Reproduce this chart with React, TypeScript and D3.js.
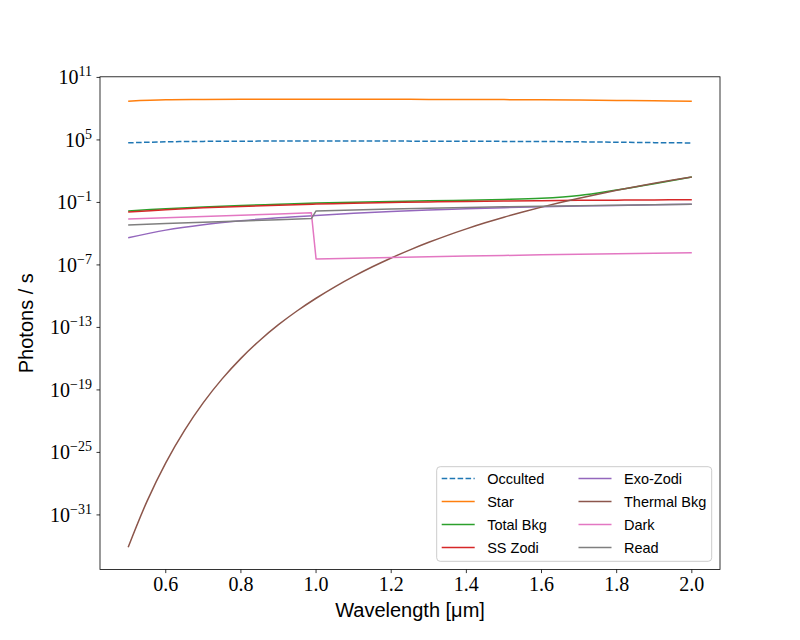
import React from "react";
import { scaleLinear, scaleLog, line, curveCatmullRom, curveLinear, range, min, max } from "d3";

// wavelength grids [um]
const wave = [0.5, 0.6, 0.7, 0.8, 0.9, 1.0, 1.1, 1.2, 1.3, 1.4, 1.5, 1.6, 1.7, 1.8, 1.9, 2.0];
const thermWave = [
  0.5, 0.55, 0.6, 0.65, 0.7, 0.75, 0.8, 0.85, 0.9, 0.95, 1.0, 1.05, 1.1, 1.15, 1.2, 1.25,
  1.3, 1.35, 1.4, 1.45, 1.5, 1.55, 1.6, 1.65, 1.7, 1.75, 1.8, 1.85, 1.9, 1.95, 2.0,
];
// detector terms change at the 1 um detector switch
const detWave = [0.5, 0.6, 0.7, 0.8, 0.9, 0.9875, 1.0, 1.1, 1.2, 1.3, 1.4, 1.5, 1.6, 1.7, 1.8, 1.9, 2.0];

// log10(photons / s)
const occultedLog = [4.72, 4.82, 4.86, 4.88, 4.89, 4.9, 4.9, 4.89, 4.88, 4.87, 4.86, 4.85, 4.82, 4.78, 4.74, 4.71];
const starLog = [8.72, 8.85, 8.88, 8.9, 8.9, 8.91, 8.91, 8.9, 8.89, 8.88, 8.87, 8.86, 8.83, 8.79, 8.75, 8.72];
const totalBkgLog = [-1.82, -1.6, -1.43, -1.29, -1.17, -1.06, -0.98, -0.91, -0.85, -0.79, -0.72, -0.6, -0.33, 0.2, 0.8, 1.45];
const ssZodiLog = [-1.93, -1.7, -1.52, -1.38, -1.26, -1.16, -1.08, -1.01, -0.95, -0.9, -0.86, -0.83, -0.8, -0.78, -0.76, -0.75];
const exoZodiLog = [-4.4, -3.66, -3.14, -2.76, -2.47, -2.25, -2.05, -1.87, -1.73, -1.61, -1.5, -1.42, -1.35, -1.29, -1.23, -1.18];
const thermalLog = [
  -34.1, -29.7, -26.0, -22.88, -20.22, -17.94, -15.97, -14.25, -12.74, -11.4, -10.2, -9.1, -8.1,
  -7.18, -6.33, -5.55, -4.83, -4.16, -3.54, -2.96, -2.42, -1.92, -1.45, -1.01, -0.6, -0.21, 0.16,
  0.51, 0.84, 1.15, 1.44,
];
const darkLog = [-2.58, -2.46, -2.34, -2.22, -2.11, -2.0, -6.42, -6.35, -6.28, -6.21, -6.15, -6.09, -6.03, -5.97, -5.92, -5.88, -5.84];
const readLog = [-3.16, -3.03, -2.9, -2.78, -2.66, -2.55, -1.82, -1.72, -1.63, -1.55, -1.48, -1.42, -1.36, -1.31, -1.26, -1.22, -1.18];

const xTicks = [0.6, 0.8, 1.0, 1.2, 1.4, 1.6, 1.8, 2.0];

const series = [
  { name: "Occulted", color: "#1f77b4", x: wave, y: occultedLog, dash: "5.55,2.4", smooth: true },
  { name: "Star", color: "#ff7f0e", x: wave, y: starLog, smooth: true },
  { name: "Total Bkg", color: "#2ca02c", x: wave, y: totalBkgLog, smooth: true },
  { name: "SS Zodi", color: "#d62728", x: wave, y: ssZodiLog, smooth: true },
  { name: "Exo-Zodi", color: "#9467bd", x: wave, y: exoZodiLog, smooth: true },
  { name: "Thermal Bkg", color: "#8c564b", x: thermWave, y: thermalLog, smooth: true },
  { name: "Dark", color: "#e377c2", x: detWave, y: darkLog, smooth: false },
  { name: "Read", color: "#7f7f7f", x: detWave, y: readLog, smooth: false },
];

const serif = "'Liberation Serif', 'DejaVu Serif', serif";
const sans = "'Liberation Sans', Arial, sans-serif";

export default function App() {
  const left = 100, right = 720, top = 76.8, bottom = 569.6;

  // matplotlib-style 5% margins
  const x = scaleLinear().domain([0.425, 2.075]).range([left, right]);
  const allLog = series.flatMap((s) => s.y);
  const lo = min(allLog), hi = max(allLog);
  const pad = (hi - lo) * 0.05;
  const y = scaleLog().domain([10 ** (lo - pad), 10 ** (hi + pad)]).range([bottom, top]);

  const yExps = range(11, -36, -6);

  const legendCols = [series.slice(0, 4), series.slice(4)];
  const colX = [441.7, 578.5];

  return (
    <svg width={800} height={640} style={{ position: "absolute", left: 0, top: 0, background: "#fff" }}>
      <defs>
        <clipPath id="plot">
          <rect x={left} y={top} width={right - left} height={bottom - top} />
        </clipPath>
      </defs>
      <rect x={0} y={0} width={800} height={640} fill="#fff" />

      <g clipPath="url(#plot)">
        {series.map((s) => {
          const gen = line<number>()
            .x((d, i) => x(s.x[i]))
            .y((d) => y(10 ** d))
            .curve(s.smooth ? curveCatmullRom.alpha(0.5) : curveLinear);
          return (
            <path
              key={s.name}
              d={gen(s.y) || ""}
              fill="none"
              stroke={s.color}
              strokeWidth={1.5}
              strokeDasharray={s.dash}
              strokeLinejoin="round"
            />
          );
        })}
      </g>

      {/* x axis */}
      {xTicks.map((t) => (
        <g key={t}>
          <line x1={x(t)} x2={x(t)} y1={bottom} y2={bottom + 3.5} stroke="#000" strokeWidth={0.8} />
          <text x={x(t)} y={bottom + 21} textAnchor="middle" fontFamily={serif} fontSize={20}>
            {t.toFixed(1)}
          </text>
        </g>
      ))}
      <text x={(left + right) / 2} y={617} textAnchor="middle" fontFamily={sans} fontSize={20}>
        Wavelength [μm]
      </text>

      {/* y axis */}
      {yExps.map((e) => {
        const ty = y(10 ** e);
        return (
          <g key={e}>
            <line x1={left - 3.5} x2={left} y1={ty} y2={ty} stroke="#000" strokeWidth={0.8} />
            <text x={92} y={ty + 7} textAnchor="end" fontFamily={serif} fontSize={20}>
              10
              <tspan dy={-8} fontSize={14}>
                {e < 0 ? "\u2212" + Math.abs(e) : String(e)}
              </tspan>
            </text>
          </g>
        );
      })}
      <text
        transform={`translate(33, ${(top + bottom) / 2}) rotate(-90)`}
        textAnchor="middle"
        fontFamily={sans}
        fontSize={20}
      >
        Photons / s
      </text>

      {/* frame */}
      <rect x={left} y={top} width={right - left} height={bottom - top} fill="none" stroke="#000" strokeWidth={0.8} />

      {/* legend */}
      <rect x={436.7} y={466.7} width={275} height={94.6} rx={3.5} fill="#fff" fillOpacity={0.8} stroke="#cccccc" strokeWidth={1} />
      {legendCols.map((col, ci) =>
        col.map((s, ri) => {
          const ry = 478.5 + ri * 23;
          const hx = colX[ci];
          return (
            <g key={s.name}>
              <line x1={hx} x2={hx + 33} y1={ry} y2={ry} stroke={s.color} strokeWidth={1.5} strokeDasharray={s.dash} />
              <text x={hx + 45.5} y={ry + 5} fontFamily={sans} fontSize={14.5}>
                {s.name}
              </text>
            </g>
          );
        })
      )}
    </svg>
  );
}
